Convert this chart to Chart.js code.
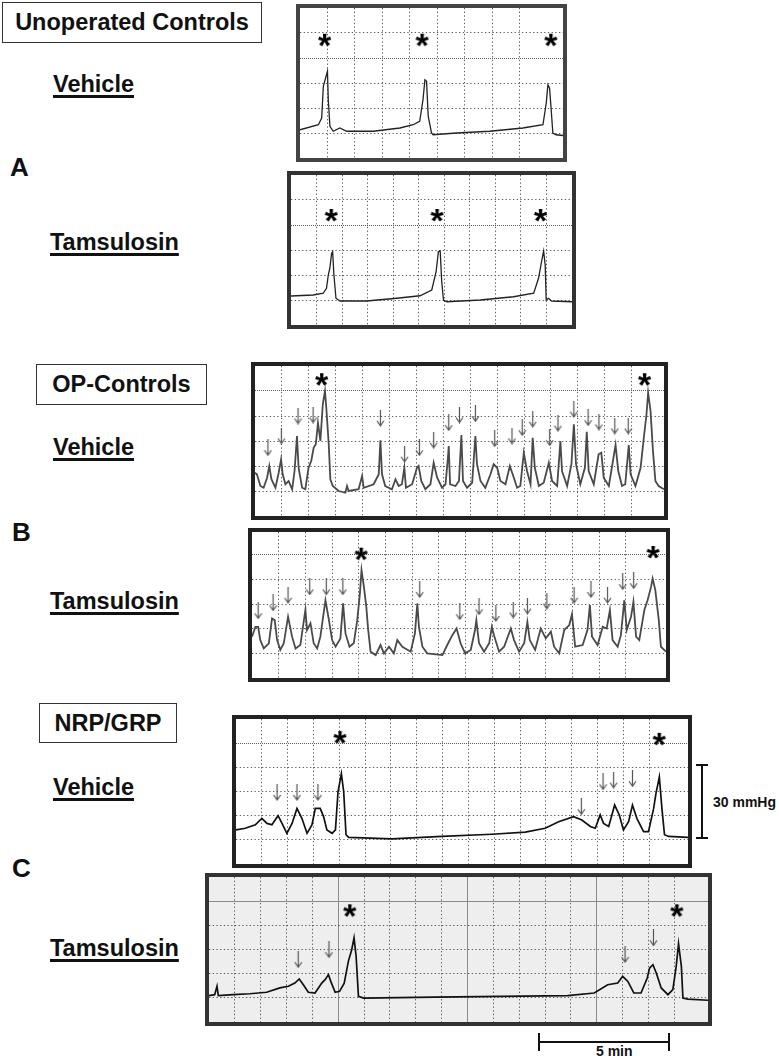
<!DOCTYPE html>
<html>
<head>
<meta charset="utf-8">
<script src="https://cdn.jsdelivr.net/npm/chart.js@4"></script>
<style>
  body { margin: 0; width: 779px; height: 1056px; overflow: hidden; background: #fff; position: relative;
         font-family: "Liberation Sans", Arial, Helvetica, sans-serif; font-weight: bold; color: #111; }
  .lbl { position: absolute; white-space: nowrap; }
  .boxlbl { position: absolute; box-sizing: border-box; border: 1.5px solid #333; display: flex;
            align-items: center; justify-content: center; font-size: 23.5px; }
  .cond { font-size: 23.5px; line-height: 24px; text-decoration: underline; text-decoration-thickness: 2.5px;
          text-underline-offset: 3px; }
  .letter { font-size: 26px; line-height: 26px; }
  .panel { position: absolute; border: 4px solid #333; }
  .panel canvas { display: block; }
  .bar { position: absolute; background: #111; }
</style>
</head>
<body>

<div class="boxlbl" style="left:2px;top:2px;width:260px;height:41px;">Unoperated Controls</div>
<div class="lbl cond" style="left:53px;top:72px;">Vehicle</div>
<div class="lbl letter" style="left:10px;top:154px;">A</div>
<div class="lbl cond" style="left:50px;top:230px;">Tamsulosin</div>

<div class="boxlbl" style="left:36px;top:364px;width:171px;height:41px;">OP-Controls</div>
<div class="lbl cond" style="left:53px;top:435px;">Vehicle</div>
<div class="lbl letter" style="left:12px;top:519px;">B</div>
<div class="lbl cond" style="left:50px;top:589px;">Tamsulosin</div>

<div class="boxlbl" style="left:39px;top:703px;width:138px;height:40px;">NRP/GRP</div>
<div class="lbl cond" style="left:53px;top:775px;">Vehicle</div>
<div class="lbl letter" style="left:12px;top:855px;">C</div>
<div class="lbl cond" style="left:50px;top:936px;">Tamsulosin</div>

<!-- 30 mmHg scale -->
<div class="bar" style="left:701px;top:765px;width:2px;height:73px;"></div>
<div class="bar" style="left:696px;top:764px;width:12px;height:2px;"></div>
<div class="bar" style="left:696px;top:837px;width:12px;height:2px;"></div>
<div class="lbl" style="left:713px;top:795px;font-size:14px;line-height:14px;">30 mmHg</div>

<!-- 5 min scale -->
<div class="bar" style="left:539px;top:1041px;width:130px;height:2px;"></div>
<div class="bar" style="left:538px;top:1033px;width:2px;height:18px;"></div>
<div class="bar" style="left:668px;top:1033px;width:2px;height:18px;"></div>
<div class="lbl" style="left:596px;top:1044px;font-size:14px;line-height:14px;">5 min</div>

<div id="panels"></div>

<script>
// ---- data: x in grid divisions, y in grid divisions (from bottom) ----

// A - unoperated, vehicle
const aVehX = [0, 0.67, 0.79, 0.85, 0.95, 1.0, 1.03, 1.09, 1.21, 1.45, 1.7, 2.67, 3.64, 4.12, 4.36, 4.48, 4.55, 4.61, 4.67, 4.79, 4.85, 5.7, 6.91, 8.12, 8.85, 8.97, 9.03, 9.09, 9.15, 9.21, 9.33, 9.58];
const aVehY = [1.13, 1.33, 1.6, 2.87, 3.27, 3.47, 2.33, 1.27, 1.07, 1.2, 1.07, 1.07, 1.2, 1.33, 1.47, 2.33, 3.13, 3.07, 1.67, 1.0, 0.93, 1.0, 1.07, 1.2, 1.33, 2.2, 2.93, 2.8, 1.93, 1.0, 0.93, 0.9];
const aVehStarX = [0.91, 4.46, 9.15];
const aVehStarY = [4.73, 4.73, 4.73];

// A - unoperated, tamsulosin
const aTamX = [0, 0.87, 1.26, 1.39, 1.46, 1.52, 1.59, 1.63, 1.68, 1.76, 1.92, 2.96, 4.14, 5.05, 5.51, 5.68, 5.77, 5.84, 5.9, 5.97, 6.1, 7.41, 8.71, 9.5, 9.69, 9.82, 9.89, 9.95, 9.99, 10.08, 10.2, 11];
const aTamY = [1.16, 1.2, 1.27, 1.47, 2.0, 2.27, 2.87, 2.93, 2.0, 1.07, 0.96, 0.96, 1.07, 1.17, 1.4, 2.13, 2.93, 2.96, 1.73, 1.0, 0.93, 1.0, 1.13, 1.27, 1.87, 2.6, 2.96, 2.4, 1.0, 1.07, 0.96, 0.93];
const aTamStarX = [1.59, 5.73, 9.78];
const aTamStarY = [4.4, 4.4, 4.4];

// B - OP controls, vehicle
const bVehX = [0, 0.07, 0.2, 0.32, 0.45, 0.53, 0.61, 0.76, 0.88, 0.97, 1.03, 1.13, 1.25, 1.38, 1.47, 1.56, 1.62, 1.75, 1.87, 1.99,
  2.09, 2.18, 2.26, 2.34, 2.43, 2.52, 2.6, 2.65, 2.74, 2.8, 2.89, 3.11, 3.36, 3.42, 3.48, 3.85, 3.98, 4.04, 4.41, 4.6,
  4.66, 4.72, 4.84, 5.09, 5.22, 5.34, 5.46, 5.55, 5.61, 5.84, 6.02, 6.08, 6.18, 6.33, 6.52, 6.64, 6.77, 6.95, 7.08, 7.17,
  7.2, 7.25, 7.45, 7.58, 7.67, 7.73, 7.88, 8.07, 8.19, 8.25, 8.38, 8.56, 8.75, 8.87, 9.0, 9.12, 9.31, 9.47, 9.62, 9.74,
  9.86, 9.99, 10.11, 10.24, 10.32, 10.4, 10.55, 10.73, 10.92, 11.04, 11.23, 11.35, 11.41, 11.6, 11.76, 11.85, 11.93, 12.09, 12.26, 12.33,
  12.4, 12.59, 12.77, 12.87, 12.96, 13.15, 13.4, 13.5, 13.64, 13.76, 13.89, 13.96, 14.14, 14.33, 14.45, 14.55, 14.61, 14.7, 14.79, 14.88,
  15.0, 15.2];
const bVehY = [1.73, 1.67, 1.2, 1.13, 1.53, 2.0, 1.47, 1.13, 1.73, 2.27, 1.67, 1.27, 1.4, 1.07, 1.8, 3.2, 1.93, 1.13, 1.07, 1.93,
  2.2, 2.73, 2.87, 3.73, 3.0, 4.47, 5.0, 4.33, 2.87, 1.47, 1.2, 1.0, 0.93, 1.2, 1.0, 1.07, 1.6, 1.13, 1.27, 1.67,
  3.03, 1.67, 1.2, 1.07, 1.47, 1.2, 1.27, 1.93, 1.13, 1.27, 1.93, 2.0, 1.4, 1.07, 1.27, 2.13, 1.53, 1.13, 1.27, 2.33,
  2.8, 1.27, 1.2, 1.4, 3.24, 1.4, 1.13, 1.33, 3.2, 2.07, 1.4, 1.13, 1.67, 2.07, 1.93, 1.4, 1.27, 2.0, 1.53, 1.13,
  1.2, 2.53, 1.8, 1.27, 3.13, 1.93, 1.2, 1.33, 2.13, 1.4, 1.2, 3.0, 1.8, 1.2, 2.07, 3.67, 2.07, 1.27, 1.93, 3.37,
  1.8, 1.27, 2.47, 2.53, 1.53, 1.2, 2.84, 1.8, 1.2, 1.27, 2.84, 1.67, 1.2, 1.93, 3.13, 4.07, 4.93, 4.2, 2.6, 1.4,
  1.2, 1.07];
const bVehStarX = [2.49, 14.49];
const bVehStarY = [5.47, 5.47];
const bVehArrowX = [0.48, 0.98, 1.6, 2.16, 4.66, 5.56, 6.11, 6.64, 7.2, 7.6, 8.19, 8.91, 9.55, 9.93, 10.32, 10.95, 11.26, 11.85, 12.38, 12.78, 13.37, 13.87];
const bVehArrowY = [2.73, 3.2, 4.0, 4.04, 3.91, 2.47, 2.73, 3.03, 3.73, 4.04, 4.09, 3.09, 3.2, 3.53, 3.87, 3.13, 3.71, 4.27, 3.93, 3.76, 3.6, 3.6];

// B - OP controls, tamsulosin
const bTamX = [0, 0.13, 0.23, 0.31, 0.44, 0.63, 0.75, 0.85, 0.94, 1.06, 1.19, 1.35, 1.5, 1.63, 1.81, 2.0, 2.06, 2.19, 2.31, 2.44,
  2.56, 2.75, 2.88, 3.0, 3.13, 3.31, 3.41, 3.5, 3.65, 3.81, 3.94, 4.04, 4.1, 4.19, 4.28, 4.35, 4.44, 4.63, 4.81, 4.94,
  5.13, 5.31, 5.44, 5.63, 5.94, 6.1, 6.19, 6.25, 6.38, 6.56, 7.13, 7.31, 7.5, 7.66, 7.81, 7.98, 8.19, 8.35, 8.4, 8.5,
  8.69, 8.88, 8.98, 9.06, 9.25, 9.44, 9.69, 9.81, 10.0, 10.19, 10.31, 10.4, 10.6, 10.81, 11.0, 11.19, 11.31, 11.5, 11.69, 11.88,
  11.98, 12.1, 12.38, 12.56, 12.65, 12.73, 12.94, 13.13, 13.28, 13.4, 13.5, 13.69, 13.81, 13.94, 14.03, 14.19, 14.28, 14.38, 14.5, 14.69,
  14.81, 14.94, 15.0, 15.1, 15.23, 15.31, 15.5];
const bTamY = [1.68, 2.08, 2.08, 1.54, 1.2, 1.41, 2.42, 2.35, 1.54, 1.14, 1.41, 2.49, 1.68, 1.2, 1.34, 2.78, 1.95, 2.22, 1.41, 1.2,
  1.68, 3.16, 2.35, 1.54, 1.27, 1.61, 3.03, 1.81, 1.27, 1.41, 2.35, 3.43, 4.38, 3.7, 2.89, 1.95, 1.07, 0.93, 1.34, 1.0,
  1.27, 1.0, 1.54, 1.27, 1.07, 1.81, 3.03, 2.08, 1.27, 1.0, 0.93, 1.34, 1.74, 2.01, 1.41, 1.0, 1.14, 1.95, 2.35, 1.41,
  1.07, 1.41, 2.08, 1.74, 1.07, 1.27, 2.01, 1.54, 1.07, 1.41, 2.28, 1.54, 1.14, 2.01, 1.61, 1.88, 1.27, 1.0, 1.95, 2.15,
  2.59, 1.27, 1.34, 1.95, 2.96, 1.68, 1.34, 2.08, 2.01, 2.76, 1.54, 1.27, 1.74, 3.16, 1.95, 2.49, 3.09, 1.68, 1.54, 2.76,
  3.16, 3.7, 4.04, 3.57, 2.35, 1.27, 1.07];
const bTamStarX = [4.1, 15.03];
const bTamStarY = [5.05, 5.12];
const bTamArrowX = [0.23, 0.79, 1.35, 2.16, 2.78, 3.4, 6.28, 7.78, 8.5, 9.13, 9.78, 10.31, 11.04, 12.06, 12.69, 13.31, 13.88, 14.29];
const bTamArrowY = [2.73, 3.05, 3.36, 3.7, 3.7, 3.7, 3.59, 2.69, 2.89, 2.62, 2.76, 2.92, 3.12, 3.36, 3.59, 3.36, 3.91, 3.95];

// C - NRP/GRP, vehicle
const cVehX = [0, 0.36, 0.75, 1.0, 1.2, 1.39, 1.63, 1.81, 1.97, 2.17, 2.36, 2.55, 2.75, 2.94, 3.07, 3.26, 3.39, 3.52, 3.72, 3.85,
  3.95, 4.08, 4.17, 4.26, 4.36, 6.04, 7.97, 9.91, 11.2, 11.97, 12.49, 13.07, 13.39, 13.72, 13.91, 14.1, 14.23, 14.43, 14.66, 14.84,
  15.0, 15.2, 15.35, 15.52, 15.78, 15.97, 16.17, 16.26, 16.39, 16.49, 16.59, 16.75, 17.5];
const cVehY = [1.41, 1.48, 1.62, 1.89, 1.68, 1.62, 2.0, 1.62, 1.27, 1.68, 2.3, 1.89, 1.27, 1.62, 2.3, 2.3, 1.96, 1.41, 1.27, 1.41,
  2.99, 3.74, 2.99, 1.21, 1.1, 1.04, 1.14, 1.23, 1.32, 1.48, 1.75, 1.96, 1.82, 1.55, 1.48, 2.03, 1.68, 1.55, 2.44, 2.03,
  1.41, 1.75, 2.44, 1.89, 1.34, 1.34, 2.3, 2.92, 3.6, 2.3, 1.21, 1.14, 1.1];
const cVehStarX = [4.04, 16.4];
const cVehStarY = [5.25, 5.18];
const cVehArrowX = [1.59, 2.36, 3.17, 13.37, 14.21, 14.62, 15.35];
const cVehArrowY = [2.96, 2.96, 2.96, 2.37, 3.4, 3.47, 3.53];

// C - NRP/GRP, tamsulosin
const cTamX = [0, 0.22, 0.31, 0.36, 0.93, 1.58, 2.23, 2.74, 3.07, 3.32, 3.49, 3.65, 3.84, 4.1, 4.36, 4.49, 4.62, 4.71, 4.88, 5.05,
  5.23, 5.39, 5.52, 5.61, 5.69, 5.78, 5.98, 8.69, 11.28, 13.87, 14.9, 15.42, 15.81, 16.0, 16.2, 16.43, 16.71, 16.95, 17.04, 17.17,
  17.3, 17.49, 17.75, 17.94, 18.07, 18.16, 18.27, 18.33, 18.52, 19.3];
const cTamY = [1.09, 1.13, 1.48, 1.09, 1.13, 1.17, 1.23, 1.41, 1.48, 1.61, 1.78, 1.54, 1.23, 1.2, 1.61, 1.75, 1.96, 1.68, 1.23, 1.27,
  1.61, 2.51, 2.99, 3.48, 2.72, 1.06, 0.99, 1.03, 1.06, 1.09, 1.2, 1.54, 1.61, 1.89, 1.68, 1.2, 1.2, 1.82, 2.23, 2.37,
  2.03, 1.41, 1.13, 1.34, 2.3, 3.24, 2.3, 0.99, 0.95, 0.9];
const cTamStarX = [5.46, 18.11];
const cTamStarY = [4.62, 4.62];
const cTamArrowX = [3.45, 4.64, 16.09, 17.19];
const cTamArrowY = [2.58, 2.99, 2.79, 3.48];

// ---- marker images ----
function makeStar() {
    let c = document.createElement('canvas');
    c.width = 20; c.height = 20;
    let g = c.getContext('2d');
    g.font = 'bold 34px "Liberation Sans", Arial, sans-serif';
    let m = g.measureText('*');
    let w = m.actualBoundingBoxLeft + m.actualBoundingBoxRight;
    let h = m.actualBoundingBoxAscent + m.actualBoundingBoxDescent;
    g.fillStyle = '#000';
    g.fillText('*', 10 - w / 2 + m.actualBoundingBoxLeft, 10 - h / 2 + m.actualBoundingBoxAscent);
    return c;
}

function makeArrow() {
    let c = document.createElement('canvas');
    c.width = 9; c.height = 17;
    let g = c.getContext('2d');
    g.strokeStyle = '#555';
    g.lineWidth = 1.2;
    g.beginPath();
    g.moveTo(4.5, 0); g.lineTo(4.5, 16);
    g.moveTo(1, 11); g.lineTo(4.5, 16); g.lineTo(8, 11);
    g.stroke();
    return c;
}

const starImg = makeStar();
const arrowImg = makeArrow();

function pts(xs, ys) {
    return xs.map((x, i) => ({ x: x, y: ys[i] }));
}

// ---- panels ----
const panels = [
    { left: 300, top: 8, w: 263, h: 150, xMax: 9.58, yMax: 6, x: aVehX, y: aVehY, sx: aVehStarX, sy: aVehStarY, ax: [], ay: [],
      line: '#222', lw: 1.3, frame: '#444', bg: '#fff', denseY: [4] },
    { left: 291, top: 175, w: 281, h: 150, xMax: 11, yMax: 6, x: aTamX, y: aTamY, sx: aTamStarX, sy: aTamStarY, ax: [], ay: [],
      line: '#222', lw: 1.3, frame: '#333', bg: '#fff', denseY: [4] },
    { left: 255, top: 366, w: 409, h: 150, xMax: 15.2, yMax: 6, x: bVehX, y: bVehY, sx: bVehStarX, sy: bVehStarY, ax: bVehArrowX, ay: bVehArrowY,
      line: '#4a4a4a', lw: 1.8, frame: '#222', bg: '#fff', denseY: [5] },
    { left: 252, top: 532, w: 414, h: 146, xMax: 15.5, yMax: 5.93, x: bTamX, y: bTamY, sx: bTamStarX, sy: bTamStarY, ax: bTamArrowX, ay: bTamArrowY,
      line: '#4a4a4a', lw: 1.8, frame: '#222', bg: '#fff', denseY: [5] },
    { left: 236, top: 719, w: 452, h: 145, xMax: 17.5, yMax: 6, x: cVehX, y: cVehY, sx: cVehStarX, sy: cVehStarY, ax: cVehArrowX, ay: cVehArrowY,
      line: '#111', lw: 1.7, frame: '#222', bg: '#fff', denseY: [5] },
    { left: 209, top: 877, w: 499, h: 145, xMax: 19.3, yMax: 6, x: cTamX, y: cTamY, sx: cTamStarX, sy: cTamStarY, ax: cTamArrowX, ay: cTamArrowY,
      line: '#111', lw: 1.7, frame: '#333', bg: '#eeeeee', denseY: [], solid: true }
];

function axis(max, dense, solid, horizontal) {
    return {
        type: 'linear',
        min: 0,
        max: max,
        ticks: { display: false, stepSize: 1 },
        grid: {
            drawTicks: false,
            lineWidth: 1,
            color: ctx => {
                let v = ctx.tick ? ctx.tick.value : 0;
                if (v <= 0 || v >= max || Math.abs(v - Math.round(v)) > 1e-6) return 'rgba(0,0,0,0)';
                if (solid && v % 5 === 0) return '#8a8a8a';
                return '#5a5a5a';
            }
        },
        border: {
            display: false,
            dash: ctx => {
                let v = ctx.tick ? ctx.tick.value : 0;
                if (solid && v % 5 === 0) return [];
                if (dense.indexOf(v) >= 0) return [1, 1];
                return [1.3, 2.4];
            }
        },
        afterFit: s => { if (horizontal) s.height = 0; else s.width = 0; }
    };
}

const holder = document.getElementById('panels');

panels.forEach(p => {
    let box = document.createElement('div');
    box.className = 'panel';
    box.style.left = (p.left - 4) + 'px';
    box.style.top = (p.top - 4) + 'px';
    box.style.width = p.w + 'px';
    box.style.height = p.h + 'px';
    box.style.borderColor = p.frame;
    box.style.background = p.bg;
    let cv = document.createElement('canvas');
    cv.width = p.w;
    cv.height = p.h;
    box.appendChild(cv);
    holder.appendChild(box);

    new Chart(cv.getContext('2d'), {
        type: 'scatter',
        data: {
            datasets: [
                { data: pts(p.x, p.y), showLine: true, borderColor: p.line, borderWidth: p.lw, pointRadius: 0, tension: 0 },
                { data: pts(p.sx, p.sy), showLine: false, pointStyle: starImg, pointRadius: 8 },
                { data: pts(p.ax, p.ay), showLine: false, pointStyle: arrowImg, pointRadius: 8 }
            ]
        },
        options: {
            responsive: false,
            animation: false,
            events: [],
            layout: { padding: 0, autoPadding: false },
            plugins: { legend: { display: false }, tooltip: { enabled: false } },
            scales: {
                x: axis(p.xMax, [], p.solid, true),
                y: axis(p.yMax, p.denseY, p.solid, false)
            }
        }
    });
});
</script>
</body>
</html>
